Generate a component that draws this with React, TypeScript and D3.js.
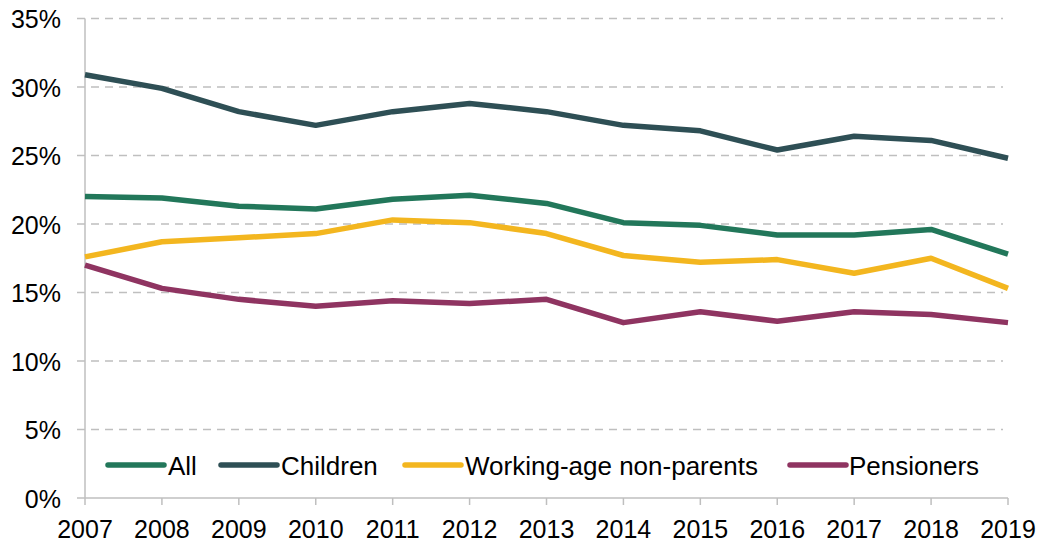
import React from "react";
import * as d3 from "d3";

const years = [2007, 2008, 2009, 2010, 2011, 2012, 2013, 2014, 2015, 2016, 2017, 2018, 2019];
const allValues = [22.0, 21.9, 21.3, 21.1, 21.8, 22.1, 21.5, 20.1, 19.9, 19.2, 19.2, 19.6, 17.8];
const childrenValues = [30.9, 29.9, 28.2, 27.2, 28.2, 28.8, 28.2, 27.2, 26.8, 25.4, 26.4, 26.1, 24.8];
const workingValues = [17.6, 18.7, 19.0, 19.3, 20.3, 20.1, 19.3, 17.7, 17.2, 17.4, 16.4, 17.5, 15.3];
const pensionerValues = [17.0, 15.3, 14.5, 14.0, 14.4, 14.2, 14.5, 12.8, 13.6, 12.9, 13.6, 13.4, 12.8];
const yTicks = [0, 5, 10, 15, 20, 25, 30, 35];

const series = [
  { name: "All", values: allValues, color: "#22775a" },
  { name: "Children", values: childrenValues, color: "#2e4f55" },
  { name: "Working-age non-parents", values: workingValues, color: "#f3b61f" },
  { name: "Pensioners", values: pensionerValues, color: "#8f3461" },
];

const W = 1043;
const H = 544;
const left = 85;
const right = 1008;
const top = 18.5;
const bottom = 498;

export default function App() {
  const x = d3.scaleLinear().domain([2007, 2019]).range([left, right]);
  const y = d3.scaleLinear().domain([0, 35]).range([bottom, top]);
  const line = d3
    .line<number>()
    .x((_, i) => x(years[i]))
    .y((d) => y(d));

  const legendItems = [
    { lx: 108, tx: 168 },
    { lx: 221, tx: 281 },
    { lx: 405, tx: 465 },
    { lx: 790, tx: 849 },
  ];
  const legendY = 465;
  const font = "'Liberation Sans', Arial, sans-serif";

  return (
    <svg
      width={W}
      height={H}
      style={{ position: "absolute", left: 0, top: 0, background: "#fff" }}
      fontFamily={font}
    >
      {yTicks.map((t) => (
        <g key={t}>
          {t > 0 && (
            <line
              x1={77}
              x2={1003}
              y1={y(t)}
              y2={y(t)}
              stroke="#bfbfbf"
              strokeWidth={1.5}
              strokeDasharray="8,6"
            />
          )}
          {t === 0 && <line x1={77} x2={left} y1={y(t)} y2={y(t)} stroke="#bfbfbf" strokeWidth={1.5} />}
          <text x={61} y={y(t) + 9.5} textAnchor="end" fontSize={25} fill="#000">
            {t}%
          </text>
        </g>
      ))}
      <line x1={left} x2={left} y1={top} y2={bottom} stroke="#bfbfbf" strokeWidth={1.5} />
      <line x1={left} x2={right} y1={bottom} y2={bottom} stroke="#bfbfbf" strokeWidth={1.5} />
      {years.map((yr) => (
        <g key={yr}>
          <line x1={x(yr)} x2={x(yr)} y1={bottom} y2={bottom + 7} stroke="#bfbfbf" strokeWidth={1.5} />
          <text x={x(yr)} y={538} textAnchor="middle" fontSize={25} fill="#000">
            {yr}
          </text>
        </g>
      ))}
      {series.map((s) => (
        <path
          key={s.name}
          d={line(s.values) || ""}
          fill="none"
          stroke={s.color}
          strokeWidth={5.5}
          strokeLinejoin="round"
        />
      ))}
      {series.map((s, i) => (
        <g key={s.name}>
          <line
            x1={legendItems[i].lx}
            x2={legendItems[i].lx + 56}
            y1={legendY}
            y2={legendY}
            stroke={s.color}
            strokeWidth={5.5}
            strokeLinecap="round"
          />
          <text x={legendItems[i].tx} y={legendY + 9.5} fontSize={26} fill="#000">
            {s.name}
          </text>
        </g>
      ))}
    </svg>
  );
}
